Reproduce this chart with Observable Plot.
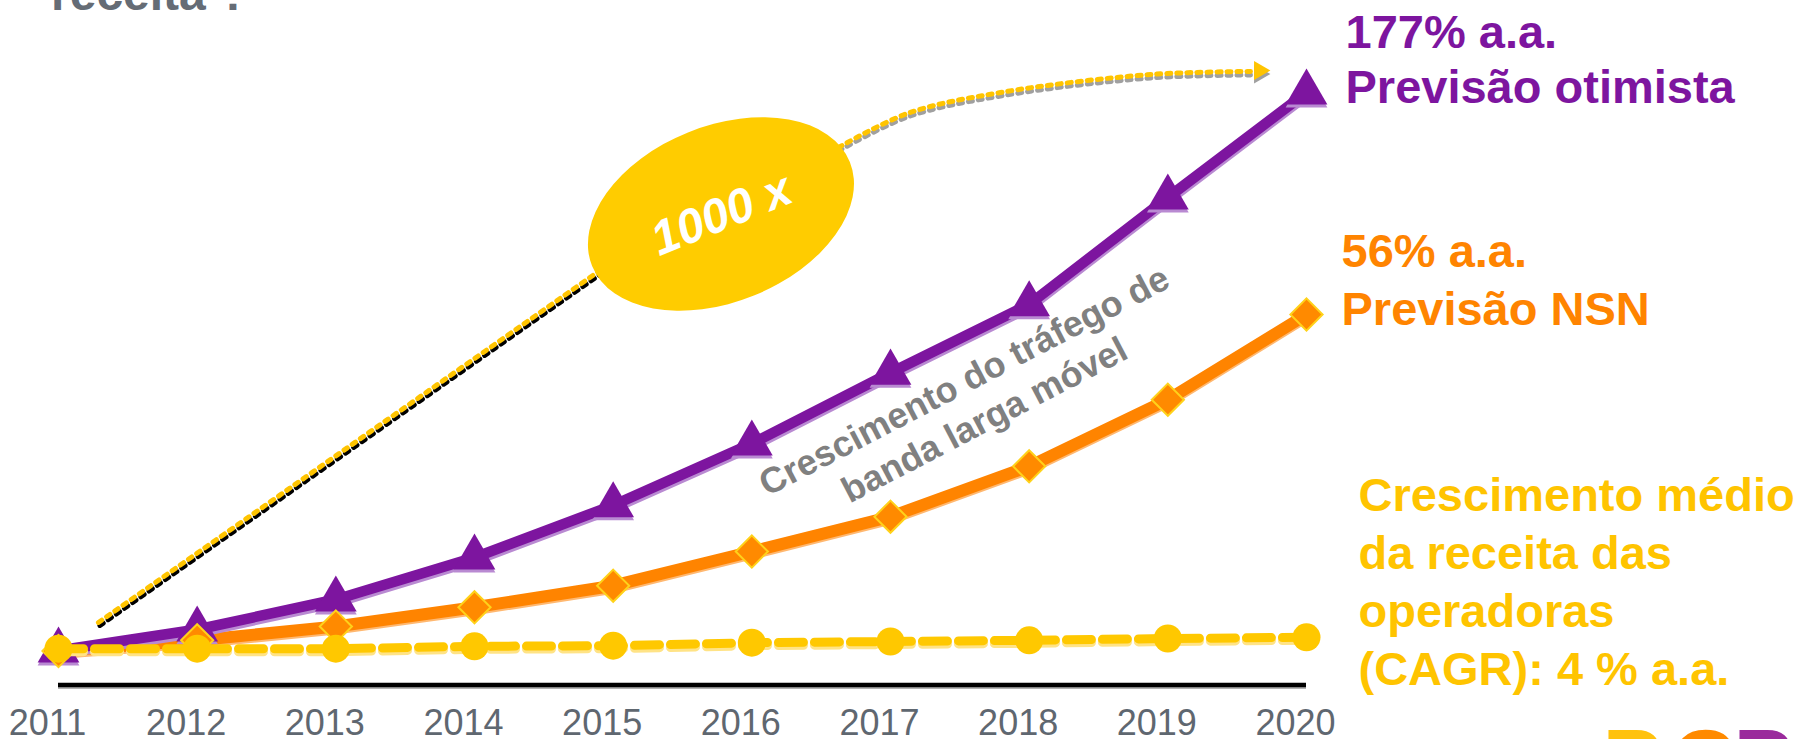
<!DOCTYPE html>
<html>
<head>
<meta charset="utf-8">
<script src="https://cdn.jsdelivr.net/npm/d3@7"></script>
<script src="https://cdn.jsdelivr.net/npm/@observablehq/plot@0.6"></script>
<style>
  html, body { margin: 0; padding: 0; background: #fff; }
  #chart svg { display: block; }
</style>
</head>
<body>
<div id="chart"></div>
<script>
// ---- data (index of traffic / revenue, arbitrary units) ----
const anos = [2011, 2012, 2013, 2014, 2015, 2016, 2017, 2018, 2019, 2020];
const otimista = [5.5, 9.0, 14.0, 21.0, 29.7, 40.0, 51.8, 63.2, 81.0, 98.5];
const nsn      = [5.4, 7.2, 9.5, 12.7, 16.3, 22.0, 27.8, 36.2, 47.3, 61.5];
const receita  = [5.8, 5.8, 5.8, 6.2, 6.3, 6.8, 7.0, 7.2, 7.5, 7.7];

// ---- texts ----
const titulo = "receita ?";
const rotuloOtimista = "177% a.a.\nPrevisão otimista";
const rotuloNSN = "56% a.a.\nPrevisão NSN";
const rotuloReceita = "Crescimento médio\nda receita das\noperadoras\n(CAGR): 4 % a.a.";
const textoTrafego = "Crescimento do tráfego de\nbanda larga móvel";
const textoBolha = "1000 x";
const logoLetras = ["P", "C", "P"];

// ---- annotation anchors (in data coordinates: year, index) ----
const setaBaixoX = [2011.288, 2014.981];
const setaBaixoY = [10.17, 70.07];
const arcoX = [2016.625, 2017.122, 2017.793, 2018.875, 2019.596];
const arcoY = [89.33, 95.0, 98.5, 101.5, 102.0];
const pontaSeta = [2019.661, 102.17];
const bolhaPos = [2015.781, 78.17];
const trafegoPos = [2017.717, 42.17];
const tituloPos = [2010.946, 112.33];
const logoX = [2022.134, 2022.63, 2023.079];
const logoY = -18.3;

const serie = anos.map((ano, i) => ({ano, otimista: otimista[i], nsn: nsn[i], receita: receita[i]}));
const setaBaixo = setaBaixoX.map((x, i) => ({x, y: setaBaixoY[i]}));
const arco = arcoX.map((x, i) => ({x, y: arcoY[i]}));

const ROXO = "#7D159F", LARANJA = "#FF8400", AMARELO = "#FFC400";
const FONT = "'Liberation Sans', Arial, Helvetica, sans-serif";

// ellipse bubble, drawn through the plot's own scales
const bolha = (index, scales) => {
  const cx = scales.x(bolhaPos[0]), cy = scales.y(bolhaPos[1]);
  const g = d3.create("svg:g");
  g.append("ellipse")
    .attr("cx", cx).attr("cy", cy)
    .attr("rx", 139).attr("ry", 88)
    .attr("transform", `rotate(-22 ${cx} ${cy})`)
    .attr("fill", "#FFCC00");
  return g.node();
};

const logoCores = ["#FFC20E", "#FF8A00", "#9A2A9C"];

const chart = Plot.plot({
  width: 1806,
  height: 739,
  marginLeft: 58,
  marginRight: 500,
  marginTop: 83,
  marginBottom: 56,
  x: {type: "linear", domain: [2011, 2020]},
  y: {type: "linear", domain: [0, 100], axis: null},
  style: {fontFamily: FONT, background: "#fff"},
  marks: [
    // dotted arrow lower-left (yellow with black shadow)
    Plot.line(setaBaixo, {x: "x", y: "y", stroke: "#000", strokeWidth: 5, strokeDasharray: "4,6", dx: 1.5, dy: 3}),
    Plot.line(setaBaixo, {x: "x", y: "y", stroke: AMARELO, strokeWidth: 5, strokeDasharray: "4,6"}),
    // dotted arc with arrowhead (yellow with gray shadow)
    Plot.line(arco, {x: "x", y: "y", curve: "catmull-rom", stroke: "#A0A0A0", strokeWidth: 5, strokeDasharray: "4,6", dy: 3.5}),
    Plot.line(arco, {x: "x", y: "y", curve: "catmull-rom", stroke: AMARELO, strokeWidth: 5, strokeDasharray: "4,6"}),
    Plot.dot([0], {x: () => pontaSeta[0], y: () => pontaSeta[1], symbol: "triangle", r: 7, rotate: 90, fill: "#A0A0A0", dy: 3.5}),
    Plot.dot([0], {x: () => pontaSeta[0], y: () => pontaSeta[1], symbol: "triangle", r: 7, rotate: 90, fill: AMARELO}),
    // bubble
    bolha,
    Plot.text([textoBolha], {x: () => bolhaPos[0], y: () => bolhaPos[1], text: d => d, rotate: -22,
      fontSize: 48, fontWeight: "bold", fontStyle: "italic", fill: "#fff", textAnchor: "middle", lineAnchor: "middle"}),

    // baseline
    Plot.ruleY([0], {x1: 2011, x2: 2020, stroke: "#999", strokeWidth: 1.5, dy: 4.5}),
    Plot.ruleY([0], {x1: 2011, x2: 2020, stroke: "#000", strokeWidth: 4.5, dy: 1.5}),

    // NSN line
    Plot.line(serie, {x: "ano", y: "nsn", stroke: "#FFB870", strokeWidth: 12, dy: 2}),
    Plot.line(serie, {x: "ano", y: "nsn", stroke: LARANJA, strokeWidth: 12}),
    // optimistic line
    Plot.line(serie, {x: "ano", y: "otimista", stroke: "#B98AD2", strokeWidth: 10.5, dy: 3}),
    Plot.line(serie, {x: "ano", y: "otimista", stroke: ROXO, strokeWidth: 10.5}),
    Plot.dot(serie, {x: "ano", y: "otimista", symbol: "triangle", r: 15.5, fill: "#B98AD2", dy: 3}),
    Plot.dot(serie, {x: "ano", y: "otimista", symbol: "triangle", r: 15.5, fill: ROXO}),
    Plot.dot(serie, {x: "ano", y: "nsn", symbol: "diamond2", r: 14.5, fill: "#FF8A00", stroke: "#FFD21A", strokeWidth: 2}),
    // revenue line
    Plot.line(serie, {x: "ano", y: "receita", stroke: "#FFE386", strokeWidth: 9, strokeDasharray: "25,11", dy: 3}),
    Plot.line(serie, {x: "ano", y: "receita", stroke: "#FFC800", strokeWidth: 9, strokeDasharray: "25,11"}),
    Plot.dot(serie, {x: "ano", y: "receita", r: 14, fill: "#FFC800"}),

    // rotated gray annotation
    Plot.text([textoTrafego], {x: () => trafegoPos[0], y: () => trafegoPos[1], text: d => d, rotate: -27.5,
      fontSize: 36, fontWeight: "bold", fill: "#808080", textAnchor: "middle", lineAnchor: "bottom", lineHeight: 1.22}),

    // right-hand labels
    Plot.text([rotuloOtimista], {x: () => 2020, y: () => 96.83, text: d => d, dx: 39,
      fontSize: 47, fontWeight: "bold", fill: ROXO, textAnchor: "start", lineAnchor: "bottom", lineHeight: 1.17}),
    Plot.text([rotuloNSN], {x: () => 2020, y: () => 59.67, text: d => d, dx: 35,
      fontSize: 47, fontWeight: "bold", fill: LARANJA, textAnchor: "start", lineAnchor: "bottom", lineHeight: 1.235}),
    Plot.text([rotuloReceita], {x: () => 2020, y: () => -0.17, text: d => d, dx: 52,
      fontSize: 47, fontWeight: "bold", fill: AMARELO, textAnchor: "start", lineAnchor: "bottom", lineHeight: 1.228}),

    // cut-off title at the top
    Plot.text([titulo], {x: () => tituloPos[0], y: () => tituloPos[1], text: d => d,
      fontSize: 48, fontWeight: "bold", fill: "#656C75", textAnchor: "start", lineAnchor: "bottom"}),

    // cut-off logo at bottom-right
    ...logoLetras.map((l, i) => Plot.text([l], {x: () => logoX[i], y: () => logoY, text: d => d,
      fontSize: 90, fontWeight: "bold", fill: logoCores[i], textAnchor: "start", lineAnchor: "bottom"})),

    // x axis
    Plot.axisX({ticks: anos, tickFormat: d => String(d), tickSize: 0, tickPadding: 26,
      fontSize: 36, color: "#5F6770", dx: -11})
  ]
});
document.getElementById("chart").appendChild(chart);
</script>
</body>
</html>
